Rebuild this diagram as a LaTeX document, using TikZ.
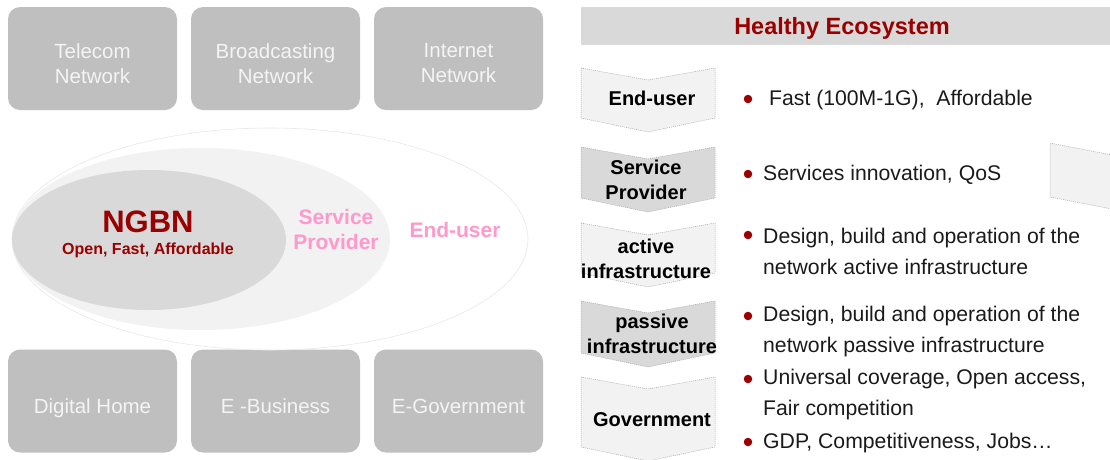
\documentclass[tikz,border=0pt]{standalone}
\usepackage{fontspec}
\setmainfont{Liberation Sans}
\definecolor{boxgray}{HTML}{BFBFBF}
\definecolor{boxtext}{HTML}{F4F4F4}
\definecolor{hdrgray}{HTML}{D9D9D9}
\definecolor{darkred}{HTML}{990000}
\definecolor{pinktxt}{HTML}{FF99CC}
\definecolor{lightfill}{HTML}{F2F2F2}
\definecolor{midfill}{HTML}{D9D9D9}
\definecolor{outline}{HTML}{A6A6A6}
\definecolor{ellline}{HTML}{E8E8E8}
\definecolor{bodytext}{HTML}{1A1A1A}
\newcommand\chevshape[3]{%
  \path[chevline, fill=#3] (581,#1) -- (648,#1+12) -- (715,#1) -- (715,#2) -- (648,#2+14) -- (581,#2) -- cycle;}
\begin{document}
\begin{tikzpicture}[x=1pt,y=-1pt,
  netbox/.style={fill=boxgray, rounded corners=12pt, minimum width=169pt, minimum height=103pt, inner sep=0pt},
  nettext/.style={text=boxtext, font=\fontsize{20.5}{25}\selectfont, align=center, inner sep=0pt},
  chevline/.style={draw=outline, line width=0.5pt, dash pattern=on 1pt off 1pt},
  chevtext/.style={font=\bfseries\fontsize{20}{25}\selectfont, align=center, inner sep=0pt, text=black},
  bullettext/.style={font=\fontsize{21.2}{31}\selectfont, align=left, anchor=west, inner sep=0pt, text=bodytext},
  bulletdot/.style={circle, fill=darkred, inner sep=0pt, minimum size=8.5pt}]
\useasboundingbox (0,0) rectangle (1110,459);

% left: network boxes
\node[netbox] (telbox) at (92.5,58.5) {};
\node[netbox] (brbox) at (275.5,58.5) {};
\node[netbox] (inbox) at (458.5,58.5) {};
\node[nettext] (teltxt) at (92.5,63.5) {Telecom\\Network};
\node[nettext] (brtxt) at (275.5,63.5) {Broadcasting\\Network};
\node[nettext] (intxt) at (458.5,63.5) {Internet\\Network};

\node[netbox] (dhbox) at (92.5,401) {};
\node[netbox] (ebbox) at (275.5,401) {};
\node[netbox] (egbox) at (458.5,401) {};
\node[nettext] (dhtxt) at (92.5,408) {Digital Home};
\node[nettext] (ebtxt) at (275.5,406) {E -Business};
\node[nettext] (egtxt) at (458.5,406) {E-Government};

% ellipses
\draw[ellline, fill=white, line width=0.6pt] (270,239) ellipse [x radius=258, y radius=111];
\fill[lightfill] (201,239) ellipse [x radius=189, y radius=91];
\fill[midfill] (149,240) ellipse [x radius=137, y radius=70];
\node[text=darkred, font=\bfseries\fontsize{31}{31}\selectfont, inner sep=0pt] (ngbn) at (148,222) {NGBN};
\node[text=darkred, font=\bfseries\fontsize{16}{16}\selectfont, inner sep=0pt] (ngbnsub) at (148,250) {Open, Fast, Affordable};
\node[text=pinktxt, font=\bfseries\fontsize{21}{25}\selectfont, align=center, inner sep=0pt] (sptxt) at (336,229) {Service\\Provider};
\node[text=pinktxt, font=\bfseries\fontsize{21}{25}\selectfont, inner sep=0pt] (eutxt) at (455,230) {End-user};

% right: header
\node[fill=hdrgray, minimum width=529pt, minimum height=38pt, inner sep=0pt] (hdr) at (845.5,26) {};
\node[text=darkred, font=\bfseries\fontsize{23.5}{23.5}\selectfont, inner sep=0pt] (hdrtxt) at (842,28) {Healthy Ecosystem};

% chevrons
\chevshape{68}{118}{lightfill}
\chevshape{147}{198}{midfill}
\chevshape{223}{273}{lightfill}
\chevshape{301}{353}{midfill}
\chevshape{377}{447}{lightfill}
\path[chevline, fill=lightfill] (1050,143) -- (1112,155) -- (1112,209) -- (1050,197) -- cycle;

\node[chevtext] (c1) at (652,98) {End-user};
\node[chevtext] (c2) at (646,180) {Service\\Provider};
\node[chevtext] (c3) at (646,258.5) {active\\infrastructure};
\node[chevtext] (c4) at (652,333.5) {passive\\infrastructure};
\node[chevtext] (c5) at (652,420) {Government};

% bullets
\node[bulletdot] (b1) at (748,99) {};
\node[bullettext] (t1) at (769,100) {Fast (100M-1G),\ \ Affordable};
\node[bulletdot] (b2) at (748,174) {};
\node[bullettext] (t2) at (763,175) {Services innovation, QoS};
\node[bulletdot] (b3) at (748,235) {};
\node[bullettext] (t3) at (763,251) {Design, build and operation of the\\network active infrastructure};
\node[bulletdot] (b4) at (748,316) {};
\node[bullettext] (t4) at (763,332) {Design, build and operation of the\\network passive infrastructure};
\node[bulletdot] (b5) at (748,379) {};
\node[bullettext] (t5) at (763,395) {Universal coverage, Open access,\\Fair competition};
\node[bulletdot] (b6) at (748,442) {};
\node[bullettext] (t6) at (763,443) {GDP, Competitiveness, Jobs…};
\end{tikzpicture}
\end{document}
